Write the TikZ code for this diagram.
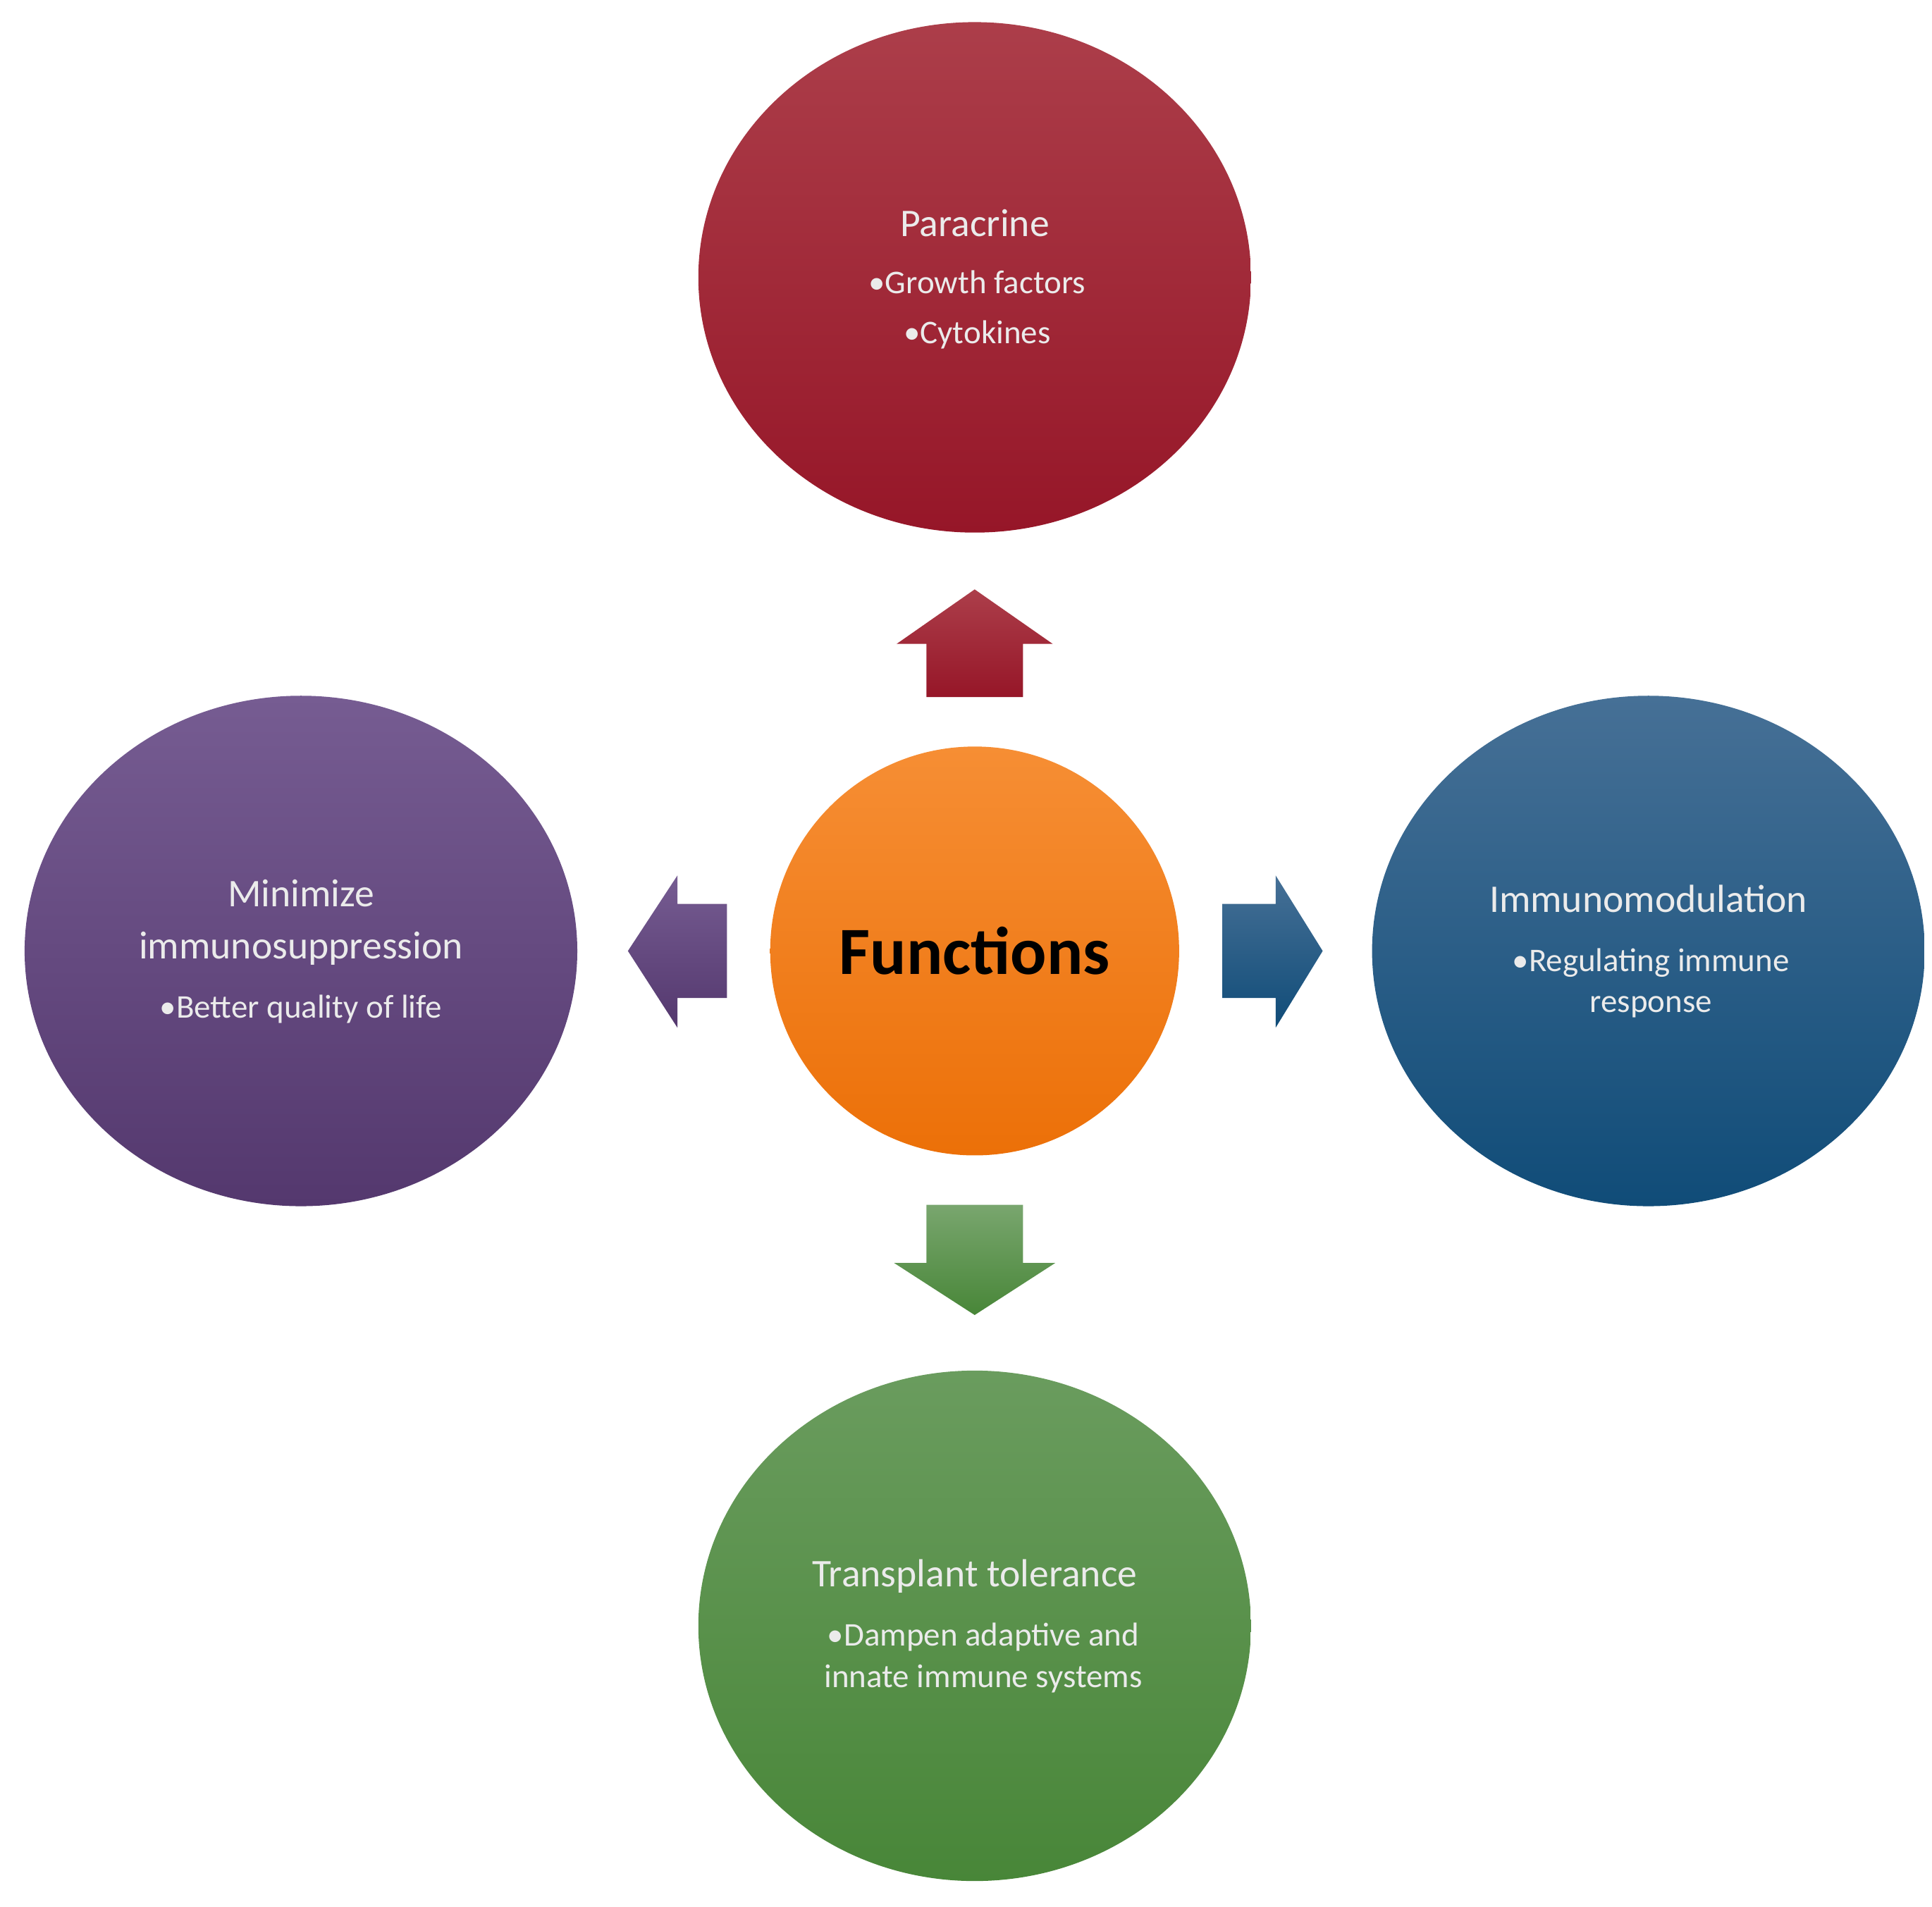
\documentclass[tikz,border=0pt]{standalone}
\usepackage{fontspec}
\setmainfont{Carlito}
\usetikzlibrary{shapes.geometric}
\definecolor{redtop}{RGB}{172,62,74}
\definecolor{redbot}{RGB}{150,22,40}
\definecolor{orgtop}{RGB}{246,142,52}
\definecolor{orgbot}{RGB}{236,112,8}
\definecolor{purtop}{RGB}{118,92,146}
\definecolor{purbot}{RGB}{84,56,110}
\definecolor{blutop}{RGB}{70,112,150}
\definecolor{blubot}{RGB}{16,76,120}
\definecolor{grntop}{RGB}{106,156,94}
\definecolor{grnbot}{RGB}{72,134,56}
\begin{document}
\begin{tikzpicture}[x=0.01cm, y=-0.01cm,
    bubble/.style={ellipse, minimum width=4.46cm, minimum height=4.12cm, inner sep=0pt},
    head/.style={font=\fontsize{9}{11}\selectfont, text=white!92!black},
    item/.style={font=\fontsize{7.6}{9.5}\selectfont, text=white!92!black, align=center}
]
    \useasboundingbox (0,0) rectangle (1560,1540);

    % circles
    \node[bubble, top color=redtop, bottom color=redbot] (para) at (787,224) {};
    \node[ellipse, minimum width=3.3cm, minimum height=3.3cm, top color=orgtop, bottom color=orgbot] (func) at (787,768) {};
    \node[bubble, top color=purtop, bottom color=purbot] (mini) at (243,768) {};
    \node[bubble, top color=blutop, bottom color=blubot] (immu) at (1331,768) {};
    \node[bubble, top color=grntop, bottom color=grnbot] (tran) at (787,1313) {};

    % block arrows
    \shade[top color=redtop, bottom color=redbot] (748,563) -- (748,520) -- (724,520) -- (787,476) -- (850,520) -- (826,520) -- (826,563) -- cycle;
    \shade[top color=grntop!90!white, bottom color=grnbot] (748,973) -- (748,1020) -- (722,1020) -- (787,1062) -- (852,1020) -- (826,1020) -- (826,973) -- cycle;
    \shade[top color=blutop, bottom color=blubot] (987,730) -- (1030,730) -- (1030,707) -- (1068,768) -- (1030,830) -- (1030,806) -- (987,806) -- cycle;
    \shade[top color=purtop, bottom color=purbot] (587,730) -- (547,730) -- (547,707) -- (507,768) -- (547,830) -- (547,806) -- (587,806) -- cycle;

    % texts
    \node[font=\fontsize{15.5}{18}\selectfont\bfseries] (functxt) at (787,768) {Functions};

    \node[head] (paratxt) at (787,180) {Paracrine};
    \node[item] (paraitem) at (789,250) {•Growth factors\\[2pt]•Cytokines};

    \node[head, align=center] (minitxt) at (243,745) {Minimize\\[1pt]immunosuppression};
    \node[item] (miniitem) at (243,815) {•Better quality of life};

    \node[head] (immutxt) at (1331,726) {Immunomodulation};
    \node[item] (immuitem) at (1333,794) {•Regulating immune\\response};

    \node[head] (trantxt) at (787,1273) {Transplant tolerance};
    \node[item] (tranitem) at (794,1339) {•Dampen adaptive and\\innate immune systems};
\end{tikzpicture}
\end{document}
